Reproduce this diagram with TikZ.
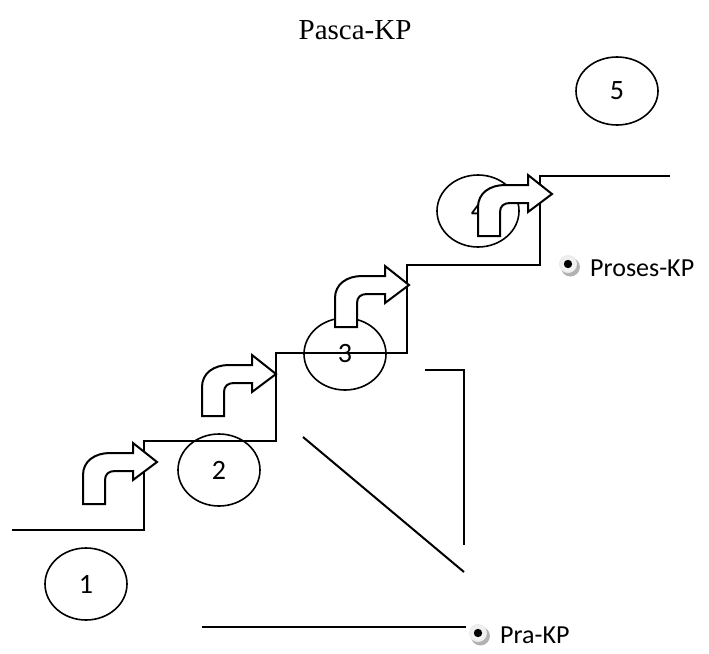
\documentclass[tikz,border=0pt]{standalone}
\usepackage{fontspec}
\setmainfont{Liberation Serif}
\newfontfamily\labelfont{Carlito}
\usetikzlibrary{shapes.geometric}
\begin{document}
\begin{tikzpicture}[x=1pt,y=-1pt,
  stair/.style={line width=2.4pt},
  plain/.style={line width=2pt},
  marker/.style={draw, ellipse, line width=1.6pt, minimum width=82pt,
    minimum height=72pt, inner sep=0pt,
    font=\labelfont\fontsize{28}{28}\selectfont},
  caption/.style={anchor=west, inner sep=0pt,
    font=\labelfont\fontsize{26}{26}\selectfont},
  pics/bentarrow/.style={code={
    \draw[line width=2pt, fill=white, line join=miter]
      (0,0) -- (0,-29) .. controls (0,-43) and (12,-51) .. (27,-51)
      -- (50,-51) -- (50,-61) -- (74,-42) -- (50,-24) -- (50,-33)
      -- (32,-33) .. controls (26,-33) and (22,-30) .. (22,-24)
      -- (22,0) -- cycle;
  }},
  pics/bulletmark/.style={code={
    \fill[black!30] (2.4,3) circle (9.5);
    \shade[inner color=white, outer color=black!8] (0,0) circle (9);
    \fill[black] (0,0) circle (4.2);
  }}
]
\useasboundingbox (0,0) rectangle (709,653);

% title
\node[font=\fontsize{29}{29}\selectfont] (title) at (355,30) {Pasca-KP};

% staircase
\coordinate (s0) at (12,530);
\coordinate (s1) at (144,530);
\coordinate (s2) at (144,441);
\coordinate (s3) at (276,441);
\coordinate (s4) at (276,353);
\coordinate (s5) at (407,353);
\coordinate (s6) at (407,265);
\coordinate (s7) at (540,265);
\coordinate (s8) at (540,176);
\coordinate (s9) at (670,176);
\draw[stair] (s0) -- (s1) -- (s2) -- (s3) -- (s4) -- (s5) -- (s6) -- (s7) -- (s8) -- (s9);

% numbered stages
\node[marker] (n1) at (86,584) {1};
\node[marker] (n2) at (219,470) {2};
\node[marker] (n3) at (345,354) {3};
\node[marker] (n4) at (478,211) {4};
\node[marker, minimum height=68pt] (n5) at (617,91) {5};

% bent arrows climbing the steps
\pic (a1) at (83,504) {bentarrow};
\pic (a2) at (202,416) {bentarrow};
\pic (a3) at (335,327) {bentarrow};
\pic (a4) at (478,236) {bentarrow};

% loose strokes
\coordinate (d1) at (303,437);
\coordinate (d2) at (464,572);
\draw[plain] (d1) -- (d2);
\coordinate (v0) at (425,370);
\coordinate (v1) at (464,370);
\coordinate (v2) at (464,545);
\draw[plain] (v0) -- (v1) -- (v2);

% phase labels
\coordinate (p0) at (202,627);
\coordinate (p1) at (466,627);
\draw[plain] (p0) -- (p1);
\pic (bpra) at (478,633) {bulletmark};
\node[caption] (pra) at (500,635) {Pra-KP};
\pic (bproses) at (568,264) {bulletmark};
\node[caption] (proses) at (590,268) {Proses-KP};
\end{tikzpicture}
\end{document}
